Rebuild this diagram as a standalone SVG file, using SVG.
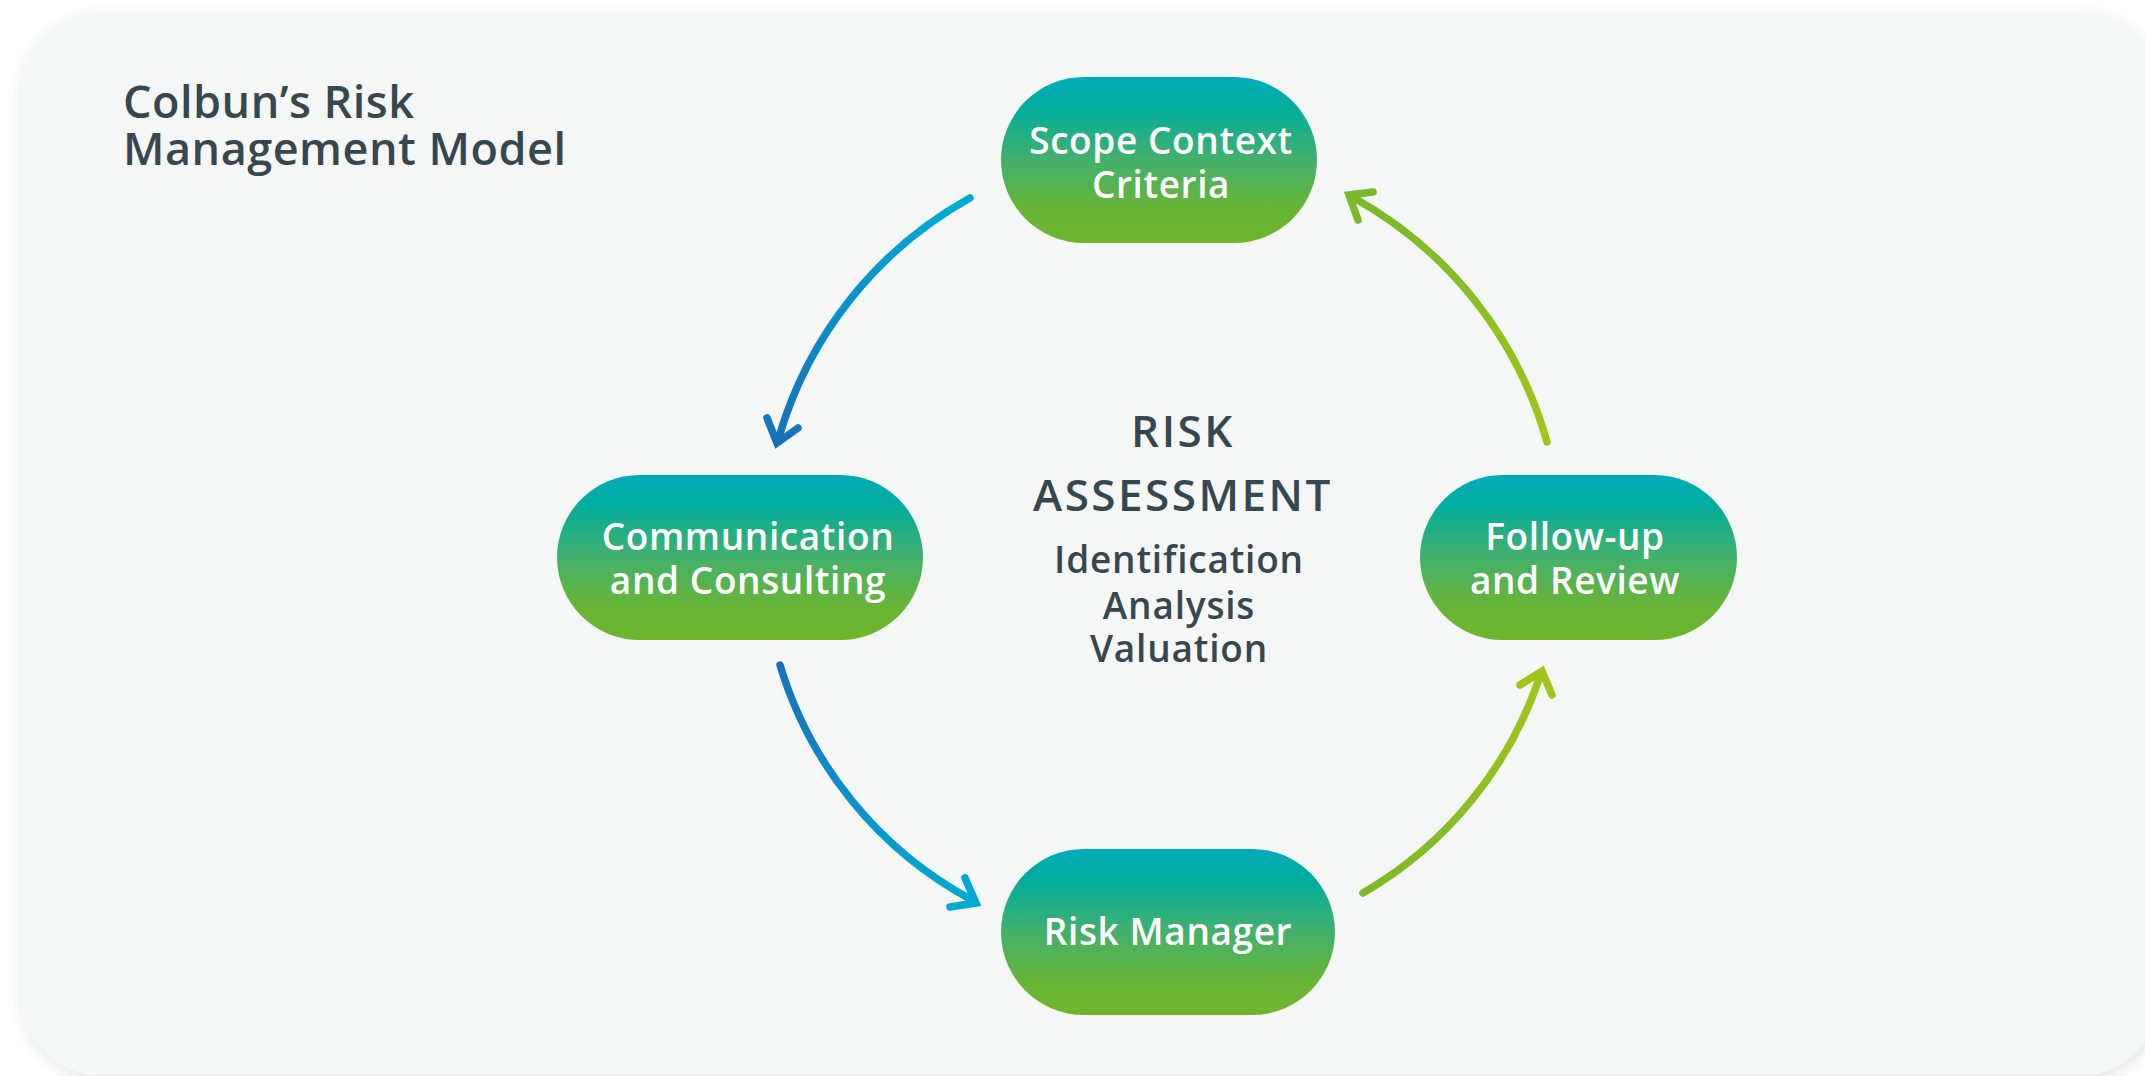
<svg xmlns="http://www.w3.org/2000/svg" width="2145" height="1076" viewBox="0 0 2145 1076">
  <defs>
    <style>
      .title { font-family: "Open Sans", "Noto Sans", sans-serif; font-weight: 600; font-size: 45px; letter-spacing: 0.5px; fill: #37474f; }
      .node-text { font-family: "Open Sans", "Noto Sans", sans-serif; font-weight: 600; font-size: 37px; letter-spacing: 0.6px; fill: #ffffff; text-anchor: middle; }
      .center-h { font-family: "Open Sans", "Noto Sans", sans-serif; font-weight: 600; font-size: 44px; letter-spacing: 2.5px; fill: #37474f; text-anchor: middle; }
      .center-s { font-family: "Open Sans", "Noto Sans", sans-serif; font-weight: 600; font-size: 37px; letter-spacing: 0.8px; fill: #37474f; text-anchor: middle; }
      .arc { fill: none; stroke-width: 7.5; stroke-linecap: round; }
      .head { fill: none; stroke-width: 7.5; stroke-linecap: round; stroke-linejoin: miter; stroke-miterlimit: 10; }
    </style>
    <linearGradient id="nodeGrad" x1="0" y1="0" x2="0" y2="1">
      <stop offset="0" stop-color="#02abbb"/>
      <stop offset="0.18" stop-color="#00ad9d"/>
      <stop offset="0.5" stop-color="#44b06c"/>
      <stop offset="0.8" stop-color="#68b535"/>
      <stop offset="1" stop-color="#6eb52c"/>
    </linearGradient>
    <linearGradient id="g1" gradientUnits="userSpaceOnUse" x1="0" y1="198" x2="0" y2="443">
      <stop offset="0" stop-color="#00abd4"/>
      <stop offset="1" stop-color="#1a70b8"/>
    </linearGradient>
    <linearGradient id="g2" gradientUnits="userSpaceOnUse" x1="0" y1="665" x2="0" y2="905">
      <stop offset="0" stop-color="#1a70b8"/>
      <stop offset="1" stop-color="#00abd4"/>
    </linearGradient>
    <linearGradient id="g3" gradientUnits="userSpaceOnUse" x1="0" y1="893" x2="0" y2="668">
      <stop offset="0" stop-color="#7cb928"/>
      <stop offset="1" stop-color="#a2c71b"/>
    </linearGradient>
    <linearGradient id="g4" gradientUnits="userSpaceOnUse" x1="0" y1="442" x2="0" y2="192">
      <stop offset="0" stop-color="#a0c71b"/>
      <stop offset="1" stop-color="#78b82a"/>
    </linearGradient>
    <filter id="shadow" x="-5%" y="-5%" width="110%" height="110%">
      <feDropShadow dx="2" dy="3" stdDeviation="8" flood-color="#000000" flood-opacity="0.12"/>
    </filter>
  </defs>

  <rect x="0" y="0" width="2145" height="1076" fill="#ffffff"/>
  <rect id="panel" x="21" y="14" width="2139" height="1061" rx="80" ry="80" fill="#f5f7f7" filter="url(#shadow)"/>

  <g id="title">
    <text class="title" x="123" y="118">Colbun’s Risk</text>
    <text class="title" x="123" y="165">Management Model</text>
  </g>

  <g id="connectors">
    <g id="arrow-scope-to-communication">
      <path class="arc" stroke="url(#g1)" d="M970,198 A402,402 0 0 0 779,437"/>
      <path class="head" stroke="url(#g1)" d="M767,418 L777,443 L798,428"/>
    </g>
    <g id="arrow-communication-to-riskmanager">
      <path class="arc" stroke="url(#g2)" d="M780,665 A396,396 0 0 0 972,900"/>
      <path class="head" stroke="url(#g2)" d="M965,878 L976,903 L950,907"/>
    </g>
    <g id="arrow-riskmanager-to-followup">
      <path class="arc" stroke="url(#g3)" d="M1363,893 A396,396 0 0 0 1540,676"/>
      <path class="head" stroke="url(#g3)" d="M1520,685 L1542,671 L1552,695"/>
    </g>
    <g id="arrow-followup-to-scope">
      <path class="arc" stroke="url(#g4)" d="M1547,442 A404,404 0 0 0 1354,198"/>
      <path class="head" stroke="url(#g4)" d="M1373,192 L1349,195 L1358,220"/>
    </g>
  </g>

  <g id="node-scope">
    <rect x="1001" y="77" width="316" height="166" rx="83" ry="83" fill="url(#nodeGrad)"/>
    <text class="node-text" x="1161" y="154">Scope Context</text>
    <text class="node-text" x="1161" y="198">Criteria</text>
  </g>

  <g id="node-communication">
    <rect x="557" y="475" width="366" height="165" rx="82.5" ry="82.5" fill="url(#nodeGrad)"/>
    <text class="node-text" x="748" y="550">Communication</text>
    <text class="node-text" x="748" y="594">and Consulting</text>
  </g>

  <g id="node-followup">
    <rect x="1420" y="475" width="317" height="165" rx="82.5" ry="82.5" fill="url(#nodeGrad)"/>
    <text class="node-text" x="1575" y="550">Follow-up</text>
    <text class="node-text" x="1575" y="594">and Review</text>
  </g>

  <g id="node-riskmanager">
    <rect x="1001" y="849" width="334" height="166" rx="83" ry="83" fill="url(#nodeGrad)"/>
    <text class="node-text" x="1168" y="945">Risk Manager</text>
  </g>

  <g id="center-label">
    <text class="center-h" x="1183" y="447">RISK</text>
    <text class="center-h" x="1183" y="511">ASSESSMENT</text>
    <text class="center-s" x="1179" y="573">Identification</text>
    <text class="center-s" x="1179" y="619">Analysis</text>
    <text class="center-s" x="1179" y="662">Valuation</text>
  </g>
</svg>
